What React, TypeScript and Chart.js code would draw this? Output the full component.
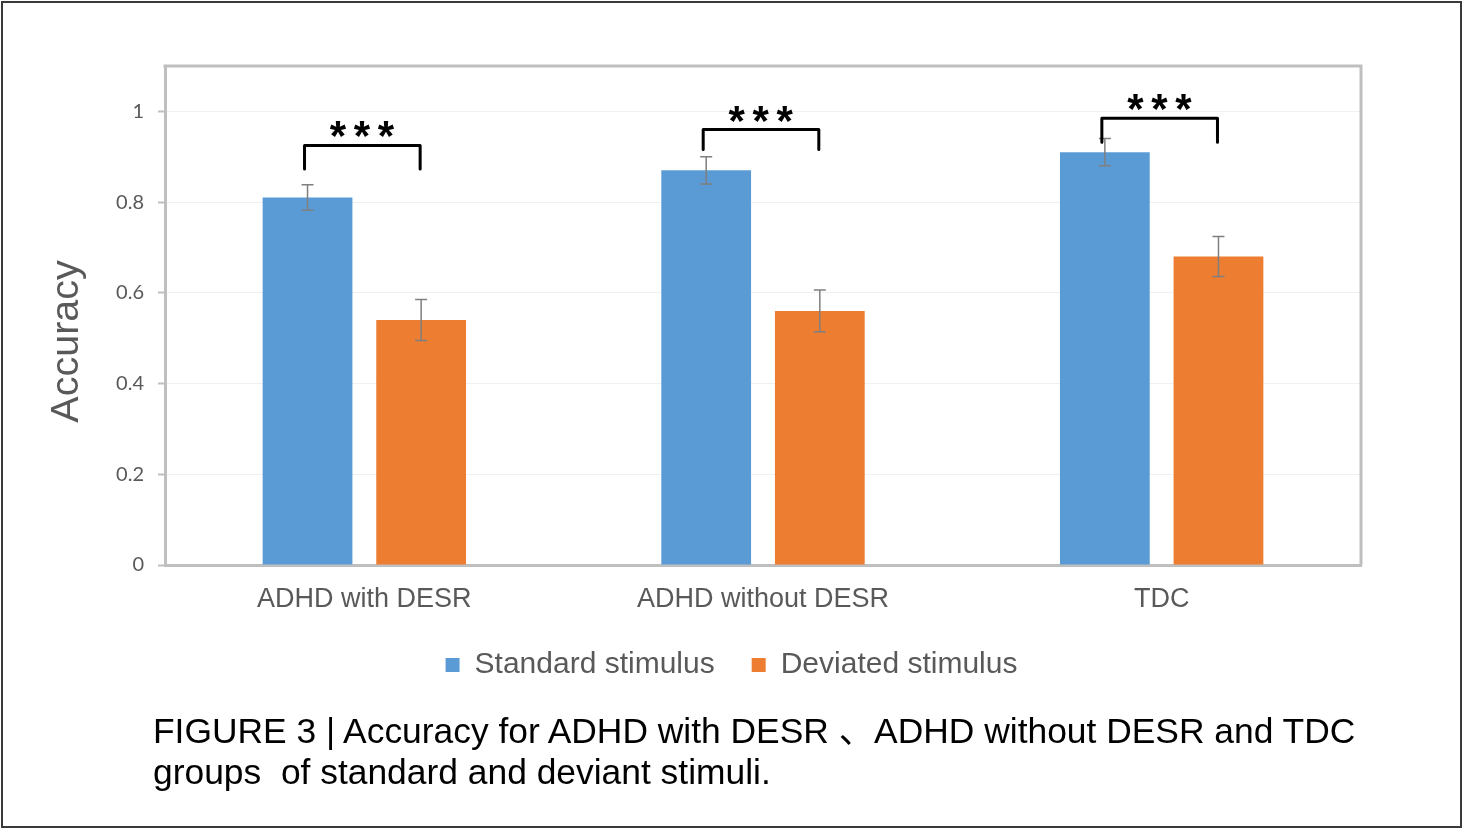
import React, { useEffect, useRef } from "react";
import { Chart, registerables } from "chart.js";

Chart.register(...registerables);

// Groups on the x axis
const groups = ["ADHD with DESR", "ADHD without DESR", "TDC"];

// Mean accuracy and standard error per stimulus type
const standardAcc = [0.81, 0.87, 0.91];
const standardErr = [0.028, 0.03, 0.03];
const deviatedAcc = [0.54, 0.56, 0.68];
const deviatedErr = [0.045, 0.046, 0.044];

// Y axis tick values
const yTickValues = [0, 0.2, 0.4, 0.6, 0.8, 1];

// Significance brackets: label, top of bracket, lower end of the legs (data units)
const sigLabels = ["***", "***", "***"];
const bracketTop = [0.925, 0.96, 0.985];
const bracketLeg = [0.873, 0.916, 0.932];

const BLUE = "#5B9BD5";
const ORANGE = "#ED7D31";
const AXIS_GRAY = "#BFBFBF";
const TEXT_GRAY = "#595959";
const FONT = "'Liberation Sans', Arial, sans-serif";

const errorArrays = [standardErr, deviatedErr];
const valueArrays = [standardAcc, deviatedAcc];

const errorBarPlugin = {
  id: "errorBars",
  afterDatasetsDraw(chart: any) {
    const ctx = chart.ctx;
    const y = chart.scales.y;
    ctx.save();
    ctx.strokeStyle = "#7F7F7F";
    ctx.lineWidth = 1.5;
    chart.data.datasets.forEach((_: any, di: number) => {
      const meta = chart.getDatasetMeta(di);
      meta.data.forEach((bar: any, i: number) => {
        const v = valueArrays[di][i];
        const e = errorArrays[di][i];
        const yt = y.getPixelForValue(v + e);
        const yb = y.getPixelForValue(v - e);
        const cap = 6;
        ctx.beginPath();
        ctx.moveTo(bar.x, yt);
        ctx.lineTo(bar.x, yb);
        ctx.moveTo(bar.x - cap, yt);
        ctx.lineTo(bar.x + cap, yt);
        ctx.moveTo(bar.x - cap, yb);
        ctx.lineTo(bar.x + cap, yb);
        ctx.stroke();
      });
    });
    ctx.restore();
  },
};

const bracketPlugin = {
  id: "sigBrackets",
  afterDatasetsDraw(chart: any) {
    const ctx = chart.ctx;
    const y = chart.scales.y;
    const m0 = chart.getDatasetMeta(0);
    const m1 = chart.getDatasetMeta(1);
    ctx.save();
    ctx.strokeStyle = "#000";
    ctx.fillStyle = "#000";
    ctx.lineWidth = 3;
    ctx.lineJoin = "round";
    ctx.lineCap = "round";
    ctx.font = `bold 42px ${FONT}`;
    ctx.textBaseline = "alphabetic";
    ctx.textAlign = "left";
    groups.forEach((_, i) => {
      const xl = m0.data[i].x - 3;
      const xr = m1.data[i].x - 1;
      const yt = y.getPixelForValue(bracketTop[i]);
      const yl = y.getPixelForValue(bracketLeg[i]);
      ctx.beginPath();
      ctx.moveTo(xl, yl);
      ctx.lineTo(xl, yt);
      ctx.lineTo(xr, yt);
      ctx.lineTo(xr, yl);
      ctx.stroke();
      // stars, each glyph centred on its own ink box
      const label = sigLabels[i];
      const step = 24;
      const cx = (xl + xr) / 2;
      const cy = yt - 16;
      const n = label.length;
      for (let k = 0; k < n; k++) {
        const ch = label[k];
        const m = ctx.measureText(ch);
        const w = m.actualBoundingBoxRight + m.actualBoundingBoxLeft;
        const h = m.actualBoundingBoxAscent + m.actualBoundingBoxDescent;
        const gx = cx + (k - (n - 1) / 2) * step;
        ctx.fillText(ch, gx - w / 2 + m.actualBoundingBoxLeft, cy + h / 2 - m.actualBoundingBoxDescent);
      }
    });
    ctx.restore();
  },
};

const frameAndTitlePlugin = {
  id: "frameAndTitle",
  afterDraw(chart: any) {
    const { ctx, chartArea } = chart;
    ctx.save();
    // top and right edges of the plot frame
    ctx.strokeStyle = AXIS_GRAY;
    ctx.lineWidth = 3;
    ctx.beginPath();
    ctx.moveTo(chartArea.left - 1.5, chartArea.top);
    ctx.lineTo(chartArea.right, chartArea.top);
    ctx.lineTo(chartArea.right, chartArea.bottom);
    ctx.stroke();
    // y axis title
    ctx.fillStyle = TEXT_GRAY;
    ctx.font = `39.5px ${FONT}`;
    ctx.textAlign = "center";
    ctx.textBaseline = "middle";
    ctx.translate(chartArea.left - 98, chartArea.top + (chartArea.bottom - chartArea.top) * 0.552);
    ctx.rotate(-Math.PI / 2);
    ctx.fillText("Accuracy", 0, 0);
    ctx.restore();
  },
};

export default function App() {
  const canvasRef = useRef<HTMLCanvasElement | null>(null);

  useEffect(() => {
    const canvas = canvasRef.current;
    if (!canvas) return;
    const chart = new Chart(canvas, {
      type: "bar",
      data: {
        labels: groups,
        datasets: [
          {
            label: "Standard stimulus",
            data: standardAcc,
            backgroundColor: BLUE,
            categoryPercentage: 0.57,
            barPercentage: 0.79,
          },
          {
            label: "Deviated stimulus",
            data: deviatedAcc,
            backgroundColor: ORANGE,
            categoryPercentage: 0.57,
            barPercentage: 0.79,
          },
        ],
      },
      options: {
        responsive: false,
        animation: false,
        devicePixelRatio: 1,
        layout: { padding: { top: 66, right: 0, bottom: 139, left: 0 } },
        plugins: {
          tooltip: { enabled: false },
          legend: {
            position: "bottom",
            labels: {
              boxWidth: 14,
              boxHeight: 14,
              color: TEXT_GRAY,
              font: { size: 30, family: FONT },
              padding: 37,
            },
          },
        },
        scales: {
          x: {
            grid: { display: false, drawTicks: false },
            border: { color: AXIS_GRAY, width: 3 },
            ticks: { color: TEXT_GRAY, font: { size: 27, family: FONT }, padding: 18 },
            afterFit: (s: any) => {
              s.height = 48;
            },
          },
          y: {
            min: 0,
            max: 1.1,
            afterBuildTicks: (s: any) => {
              s.ticks = yTickValues.map((v) => ({ value: v }));
            },
            afterFit: (s: any) => {
              s.width = 165;
            },
            grid: { color: "#F0F0F0", lineWidth: 1, tickColor: AXIS_GRAY, tickLength: 7, tickWidth: 2 },
            border: { color: AXIS_GRAY, width: 3 },
            ticks: {
              color: TEXT_GRAY,
              font: { size: 20, family: "Lato, 'Liberation Sans', sans-serif" },
              padding: 14,
              callback: (v: any) => String(Math.round(Number(v) * 10) / 10),
            },
          },
          // empty right-hand margin so the legend stays centred on the whole figure
          yMargin: {
            type: "linear",
            position: "right",
            display: true,
            grid: { display: false, drawOnChartArea: false, drawTicks: false },
            border: { display: false },
            ticks: { display: false },
            afterFit: (s: any) => {
              s.width = 102;
            },
          },
        },
      },
      plugins: [errorBarPlugin, bracketPlugin, frameAndTitlePlugin],
    });
    return () => chart.destroy();
  }, []);

  return (
    <div style={{ position: "fixed", left: 0, top: 0, width: 1463, height: 829, background: "#fff", overflow: "hidden" }}>
      <canvas ref={canvasRef} width={1463} height={829} style={{ position: "absolute", left: 0, top: 0, width: 1463, height: 829 }} />
      <div
        style={{
          position: "absolute",
          left: 153,
          top: 711,
          fontFamily: "'Liberation Sans', Arial, 'Noto Sans CJK SC', sans-serif",
          fontSize: 35.4,
          lineHeight: "41px",
          color: "#000",
          whiteSpace: "pre",
        }}
      >
        {"FIGURE 3 | Accuracy for ADHD with DESR 、ADHD without DESR and TDC\ngroups  of standard and deviant stimuli."}
      </div>
      <div
        style={{
          position: "absolute",
          left: 1,
          top: 1,
          width: 1461,
          height: 827,
          border: "2.5px solid #3a3a3a",
          boxSizing: "border-box",
          pointerEvents: "none",
        }}
      />
    </div>
  );
}
